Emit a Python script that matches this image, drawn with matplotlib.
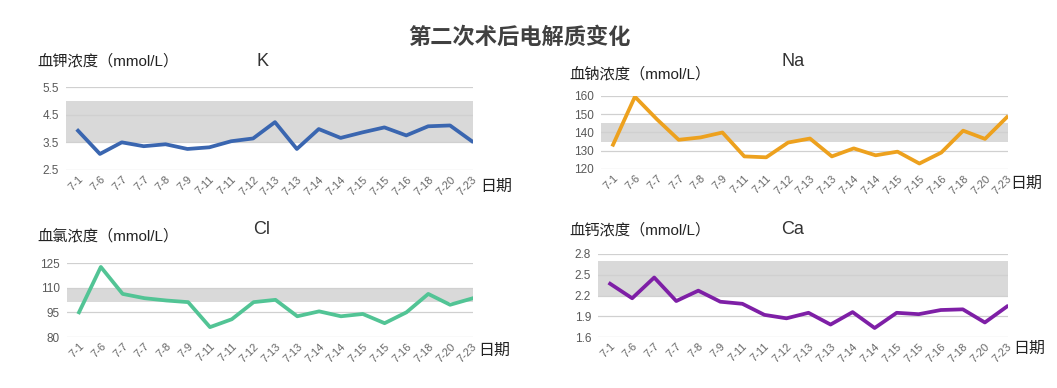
import matplotlib
matplotlib.use("Agg")
import matplotlib.pyplot as plt

plt.rcParams['font.family'] = ['Liberation Sans', 'Noto Sans CJK SC', 'DejaVu Sans']

# dates on x axis (same for all panels)
dates = ["7-1", "7-6", "7-7", "7-7", "7-8", "7-9", "7-11", "7-11", "7-12", "7-13",
         "7-13", "7-14", "7-14", "7-15", "7-15", "7-16", "7-18", "7-20", "7-23"]

k_vals = [3.92, 3.08, 3.50, 3.36, 3.43, 3.26, 3.32, 3.54, 3.64, 4.23,
          3.26, 3.98, 3.66, 3.86, 4.04, 3.75, 4.08, 4.11, 3.54]
na_vals = [133.3, 159.6, 147.3, 136.0, 137.3, 140.0, 126.9, 126.4, 134.5, 136.7,
           126.9, 131.3, 127.5, 129.5, 123.0, 129.0, 141.0, 136.5, 148.4]
cl_vals = [95.0, 122.6, 106.2, 103.6, 102.2, 101.2, 86.0, 90.8, 101.2, 102.6,
           92.6, 95.6, 92.6, 94.0, 88.4, 95.0, 106.2, 99.6, 103.4]
ca_vals = [2.37, 2.16, 2.46, 2.12, 2.27, 2.11, 2.08, 1.92, 1.87, 1.95,
           1.78, 1.96, 1.73, 1.95, 1.93, 1.99, 2.00, 1.81, 2.04]

# normal ranges (shaded band)
k_range = (3.5, 5.0)
na_range = (135, 145)
cl_range = (101, 110)
ca_range = (2.2, 2.7)

W, H = 1057, 388
fig = plt.figure(figsize=(W / 100, H / 100), dpi=100)


def px_axes(x0, y0, x1, y1):
    return fig.add_axes([x0 / W, 1 - y1 / H, (x1 - x0) / W, (y1 - y0) / H])


def panel(box, values, band, yticks, ylabel, elem, color, lab_pos, elem_pos, date_pos, tick_fmt):
    ax = px_axes(*box)
    x = list(range(len(values)))
    ax.axhspan(band[0], band[1], color="#d9d9d9", zorder=0, lw=0)
    for t in yticks:
        ax.axhline(t, color="#d0d0d0", lw=0.9, zorder=1)
    ax.plot(x, values, color=color, lw=2.7, zorder=3)
    ax.set_ylim(yticks[0], yticks[-1])
    ax.set_xlim(-0.55, 18.05)
    ax.set_yticks(yticks)
    ax.set_yticklabels([tick_fmt.format(t) for t in yticks], fontsize=8.5, color="#595959")
    ax.set_xticks(x)
    ax.set_xticklabels(dates, rotation=45, ha="right", rotation_mode="anchor",
                       fontsize=8, color="#666666")
    ax.tick_params(length=0, pad=5)
    ax.tick_params(axis="x", pad=3)
    for s in ax.spines.values():
        s.set_visible(False)
    fig.text(lab_pos[0] / W, 1 - lab_pos[1] / H, ylabel, fontsize=11, color="#222222",
             va="center", ha="left")
    fig.text(elem_pos[0] / W, 1 - elem_pos[1] / H, elem, fontsize=13, color="#333333",
             va="center", ha="center")
    fig.text(date_pos[0] / W, 1 - date_pos[1] / H, "日期", fontsize=11.5, color="#222222",
             va="center", ha="left")
    return ax


panel((66, 87, 473, 170), k_vals, k_range, [2.5, 3.5, 4.5, 5.5],
      "血钾浓度（mmol/L）", "K", "#3A66B0", (37, 61), (262, 61), (480, 186), "{:.1f}")
panel((601, 96, 1008, 169), na_vals, na_range, [120, 130, 140, 150, 160],
      "血钠浓度（mmol/L）", "Na", "#EDA11E", (569, 74), (793, 61), (1010, 183), "{:.0f}")
panel((67, 263, 473, 337), cl_vals, cl_range, [80, 95, 110, 125],
      "血氯浓度（mmol/L）", "Cl", "#52C495", (37, 236), (262, 229), (478, 350), "{:.0f}")
panel((598, 254, 1008, 337), ca_vals, ca_range, [1.6, 1.9, 2.2, 2.5, 2.8],
      "血钙浓度（mmol/L）", "Ca", "#7E1FA6", (569, 230), (793, 229), (1013, 348), "{:.1f}")

fig.text(520 / W, 1 - 38 / H, "第二次术后电解质变化", fontsize=16, fontweight="bold",
         color="#404040", ha="center", va="center")

fig.savefig("out.png", dpi=100, facecolor="white")
